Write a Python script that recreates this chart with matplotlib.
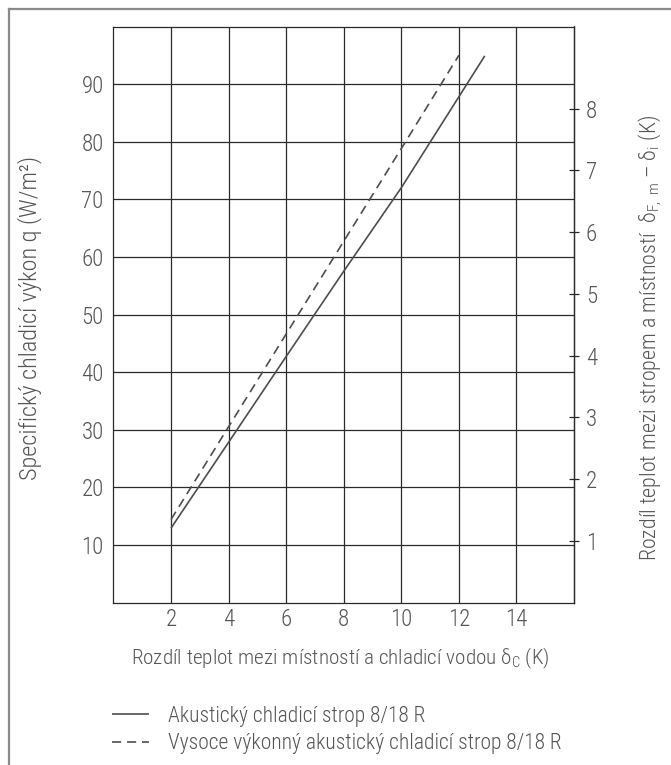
import matplotlib
matplotlib.use("Agg")
import matplotlib.pyplot as plt
from matplotlib.lines import Line2D

# ---- data ----
x_solid = [2, 4, 6, 8, 10, 12.9]
q_solid = [12.9, 27.8, 42.7, 57.5, 72.0, 94.9]
x_dashed = [2, 4, 6, 8, 10, 12]
q_dashed = [14.4, 30.5, 46.6, 62.7, 78.8, 95.0]
x_ticks = [2, 4, 6, 8, 10, 12, 14]
y_ticks = [10, 20, 30, 40, 50, 60, 70, 80, 90]
right_ticks = [1, 2, 3, 4, 5, 6, 7, 8]
q_per_K = 10.72
series_labels = ["Akustický chladicí strop 8/18 R",
                 "Vysoce výkonný akustický chladicí strop 8/18 R"]
x_label = "Rozdíl teplot mezi místností a chladicí vodou δ$_\\mathrm{C}$ (K)"
y_label = "Specifický chladicí výkon q (W/m²)"
y2_label = "Rozdíl teplot mezi stropem a místností  δ$_\\mathrm{F,\\ m}$ – δ$_\\mathrm{i}$ (K)"

FONT = ['Roboto Condensed', 'DejaVu Sans']
plt.rcParams['font.family'] = FONT
plt.rcParams['font.weight'] = 'light'
plt.rcParams['mathtext.fontset'] = 'custom'
plt.rcParams['mathtext.rm'] = 'Roboto Condensed:light'
plt.rcParams['mathtext.it'] = 'Roboto Condensed:light'
plt.rcParams['mathtext.bf'] = 'Roboto Condensed'

TXT = '#555555'
LINE = '#4d4d4d'
GRID = '#2a2a2a'
TICK_FS = 16.5

W, H = 671, 765
fig = plt.figure(figsize=(W / 100, H / 100), dpi=100)
ax = fig.add_axes([113.4 / W, 1 - 602.5 / H, (574 - 113.4) / W, (602.5 - 26.5) / H])

ax.set_xlim(0, 16)
ax.set_ylim(0, 100)
ax.set_xticks(x_ticks)
ax.set_yticks(y_ticks)
ax.grid(True, color=GRID, linewidth=0.9)
ax.set_axisbelow(True)
for s in ax.spines.values():
    s.set_color(GRID)
    s.set_linewidth(0.9)
ax.tick_params(axis='both', length=0, labelsize=TICK_FS, labelcolor=TXT)
ax.tick_params(axis='y', pad=7)
ax.tick_params(axis='x', pad=4)

l1, = ax.plot(x_solid, q_solid, color=LINE, lw=1.2, solid_capstyle='butt')
l2, = ax.plot(x_dashed, q_dashed, color=LINE, lw=1.2, dashes=(5.5, 3.5))

sec = ax.secondary_yaxis('right', functions=(lambda q: q / q_per_K, lambda d: d * q_per_K))
sec.set_yticks(right_ticks)
sec.tick_params(direction='inout', length=7, width=0.9, color=GRID, labelsize=TICK_FS,
                labelcolor=TXT, pad=5)
sec.spines['right'].set_color(GRID)
sec.spines['right'].set_linewidth(0.9)

fig.text(340.5 / W, 1 - 658 / H, x_label, fontsize=15.2, color=TXT, ha='center', va='center')
fig.text(30 / W, 1 - 318 / H, y_label, fontsize=17.5, color=TXT, ha='center', va='center',
         rotation=90)
fig.text(650 / W, 1 - 338 / H, y2_label, fontsize=15.8, color=TXT, ha='center', va='center',
         rotation=90)

leg = fig.legend([l1, l2], series_labels, loc='upper left',
                 bbox_to_anchor=(103 / W, 1 - 697 / H), frameon=False,
                 fontsize=15.5, handlelength=1.75, handletextpad=0.85,
                 labelspacing=0.3, borderaxespad=0)
for t in leg.get_texts():
    t.set_color(TXT)

# outer frame (top and left edges visible)
fig.add_artist(Line2D([9 / W, 1], [1 - 9 / H, 1 - 9 / H], transform=fig.transFigure,
                      color='#8a8a8a', lw=1.6))
fig.add_artist(Line2D([9 / W, 9 / W], [0, 1 - 9 / H], transform=fig.transFigure,
                      color='#8a8a8a', lw=1.6))

fig.savefig("out.png", dpi=100)
